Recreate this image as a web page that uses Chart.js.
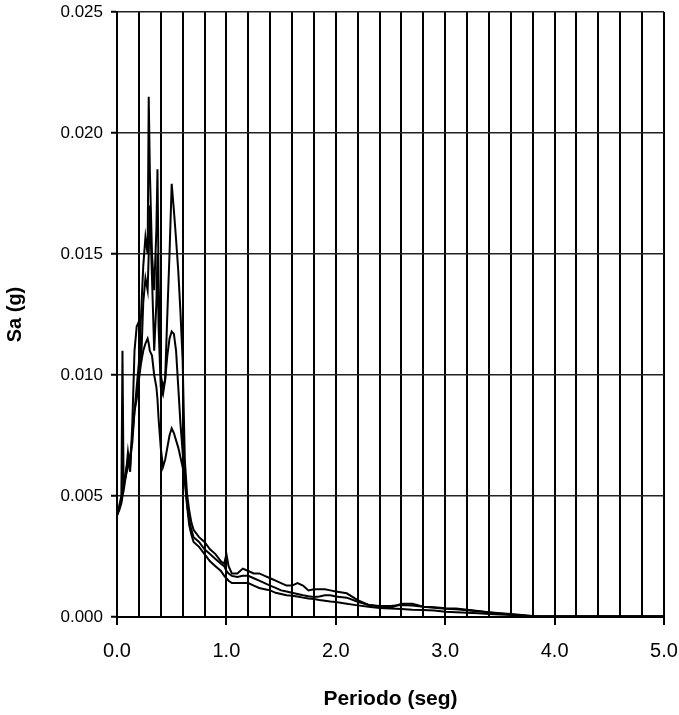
<!DOCTYPE html>
<html>
<head>
<meta charset="utf-8">
<script src="https://cdn.jsdelivr.net/npm/chart.js@4.4.1/dist/chart.umd.min.js"></script>
<style>
  html, body { margin: 0; padding: 0; background: #fff; }
  #wrap { width: 679px; height: 715px; }
</style>
</head>
<body>
<div id="wrap"><canvas id="c" width="679" height="715"></canvas></div>
<script>
// Period (s)
const periods = [0, 0.02, 0.04, 0.05, 0.06, 0.08, 0.10, 0.12, 0.14, 0.16, 0.18, 0.20, 0.22, 0.24, 0.26, 0.28, 0.29, 0.30, 0.32, 0.34, 0.36, 0.37, 0.38, 0.40, 0.42, 0.44, 0.46, 0.48, 0.50, 0.52, 0.54, 0.56, 0.58, 0.60, 0.62, 0.64, 0.66, 0.68, 0.70, 0.75, 0.80, 0.85, 0.90, 0.95, 0.98, 1.00, 1.02, 1.05, 1.10, 1.15, 1.20, 1.25, 1.30, 1.35, 1.40, 1.45, 1.50, 1.55, 1.60, 1.65, 1.70, 1.75, 1.80, 1.85, 1.90, 1.95, 2.00, 2.10, 2.20, 2.30, 2.40, 2.50, 2.60, 2.70, 2.80, 2.90, 3.00, 3.10, 3.20, 3.30, 3.40, 3.50, 3.60, 3.70, 3.80, 3.90, 4.00, 4.50, 5.00];

// Sa (g) - three spectra
const saA = [0.0042, 0.0045, 0.0048, 0.0052, 0.0055, 0.0060, 0.0065, 0.0062, 0.0075, 0.0085, 0.0095, 0.0105, 0.0125, 0.0145, 0.0157, 0.0150, 0.0215, 0.0185, 0.0150, 0.0135, 0.0160, 0.0185, 0.0140, 0.0100, 0.0095, 0.0098, 0.0125, 0.0150, 0.0179, 0.0168, 0.0156, 0.0143, 0.0126, 0.0106, 0.0065, 0.0051, 0.0044, 0.0039, 0.0036, 0.0033, 0.0031, 0.0028, 0.0026, 0.0023, 0.0022, 0.0026, 0.0021, 0.0018, 0.0018, 0.0020, 0.0019, 0.0018, 0.0018, 0.0017, 0.0016, 0.0015, 0.0014, 0.0013, 0.0013, 0.0014, 0.0013, 0.0011, 0.00115, 0.00115, 0.00115, 0.0011, 0.00105, 0.00098, 0.0007, 0.0005, 0.00043, 0.00038, 0.00055, 0.00055, 0.00042, 0.00038, 0.00034, 0.00032, 0.00028, 0.00024, 0.0002, 0.00016, 0.00012, 0.00008, 0.00004, 0.00003, 0.00003, 0.00003, 0.00003];

const saB = [0.0042, 0.0046, 0.0050, 0.0110, 0.0055, 0.0058, 0.0068, 0.0060, 0.0080, 0.0110, 0.0120, 0.0122, 0.0105, 0.0130, 0.0140, 0.0135, 0.0150, 0.0170, 0.0140, 0.0110, 0.0130, 0.0150, 0.0120, 0.0095, 0.0092, 0.0098, 0.0108, 0.0115, 0.0118, 0.0117, 0.0110, 0.0095, 0.0080, 0.0068, 0.0058, 0.0047, 0.0040, 0.0036, 0.0033, 0.0031, 0.0028, 0.0026, 0.0024, 0.0022, 0.0021, 0.0019, 0.0018, 0.0017, 0.00165, 0.0017, 0.0017, 0.0016, 0.0015, 0.0014, 0.0013, 0.0012, 0.0011, 0.00105, 0.0010, 0.00095, 0.0009, 0.00086, 0.00083, 0.00085, 0.0009, 0.0009, 0.00085, 0.0008, 0.00063, 0.0005, 0.00045, 0.00045, 0.0005, 0.00048, 0.00042, 0.0004, 0.00036, 0.00035, 0.0003, 0.00025, 0.00019, 0.00014, 0.0001, 0.00006, 0.00003, 0.00002, 0.00002, 0.00002, 0.00002];

const saC = [0.0042, 0.0044, 0.0047, 0.0050, 0.0052, 0.0058, 0.0062, 0.0067, 0.0072, 0.0085, 0.0090, 0.0098, 0.0105, 0.0110, 0.0113, 0.0115, 0.0113, 0.0110, 0.0108, 0.0100, 0.0095, 0.0090, 0.0082, 0.0070, 0.0062, 0.0065, 0.0070, 0.0075, 0.0078, 0.0076, 0.0073, 0.0070, 0.0066, 0.0062, 0.0056, 0.0046, 0.0038, 0.0034, 0.0031, 0.0029, 0.0026, 0.0023, 0.0021, 0.0019, 0.0017, 0.0016, 0.0015, 0.0014, 0.0014, 0.0014, 0.0014, 0.0013, 0.0012, 0.00115, 0.0011, 0.0010, 0.00095, 0.0009, 0.00088, 0.00085, 0.0008, 0.00076, 0.00074, 0.0007, 0.00067, 0.00064, 0.00062, 0.00055, 0.00048, 0.00042, 0.00037, 0.00035, 0.00033, 0.0003, 0.00029, 0.00027, 0.00022, 0.0002, 0.00018, 0.00015, 0.00012, 0.0001, 0.00008, 0.00005, 0.00003, 0.00002, 0.00002, 0.00002, 0.00002];

const xTickLabels = ["0.0", "1.0", "2.0", "3.0", "4.0", "5.0"];
const xTitle = "Periodo (seg)";
const yTitle = "Sa (g)";

const FONT = "'Liberation Sans', Arial, sans-serif";

function toPoints(vals) {
  return periods.map((t, i) => ({ x: t, y: vals[i] }));
}
function isWhole(v) { return Math.abs(v - Math.round(v)) < 1e-6; }

const ds = [saA, saB, saC].map((s, i) => ({
  label: 'S' + (i + 1),
  data: toPoints(s),
  borderColor: '#000',
  borderWidth: 2,
  pointRadius: 0,
  tension: 0,
  fill: false
}));

new Chart(document.getElementById('c'), {
  type: 'line',
  data: { datasets: ds },
  options: {
    responsive: false,
    animation: false,
    devicePixelRatio: 1,
    layout: { padding: { left: 0, right: 15, top: 12, bottom: 0 } },
    plugins: { legend: { display: false }, tooltip: { enabled: false } },
    scales: {
      x: {
        type: 'linear',
        min: 0, max: 5,
        afterFit: (s) => { s.height = 98; s.paddingLeft = 0; s.paddingRight = 0; },
        ticks: {
          stepSize: 0.2,
          autoSkip: false,
          maxRotation: 0,
          color: '#000',
          padding: 14,
          font: { family: FONT, size: 20 },
          callback: (v) => isWhole(v) ? xTickLabels[Math.round(v)] : ''
        },
        grid: {
          color: '#000',
          lineWidth: 2,
          drawTicks: true,
          tickLength: 8,
          tickWidth: 2,
          tickColor: (ctx) => (ctx.tick && isWhole(ctx.tick.value)) ? '#000' : 'rgba(0,0,0,0)'
        },
        border: { color: '#000', width: 2 },
        title: {
          display: true,
          text: xTitle,
          color: '#000',
          font: { family: FONT, size: 21, weight: 'bold' },
          padding: { top: 0, bottom: 3 }
        }
      },
      y: {
        min: 0, max: 0.025,
        afterFit: (s) => { s.width = 117; s.paddingTop = 0; s.paddingBottom = 0; },
        ticks: {
          stepSize: 0.005,
          color: '#000',
          padding: 8,
          font: { family: FONT, size: 17 },
          callback: (v) => v.toFixed(3)
        },
        grid: {
          color: '#222',
          lineWidth: 1.5,
          drawTicks: true,
          tickLength: 6,
          tickColor: '#000',
          tickWidth: 2
        },
        border: { color: '#000', width: 2 },
        title: {
          display: true,
          text: yTitle,
          color: '#000',
          font: { family: FONT, size: 20, weight: 'bold' },
          padding: { top: 3, bottom: 0 }
        }
      }
    }
  }
});
</script>
</body>
</html>
